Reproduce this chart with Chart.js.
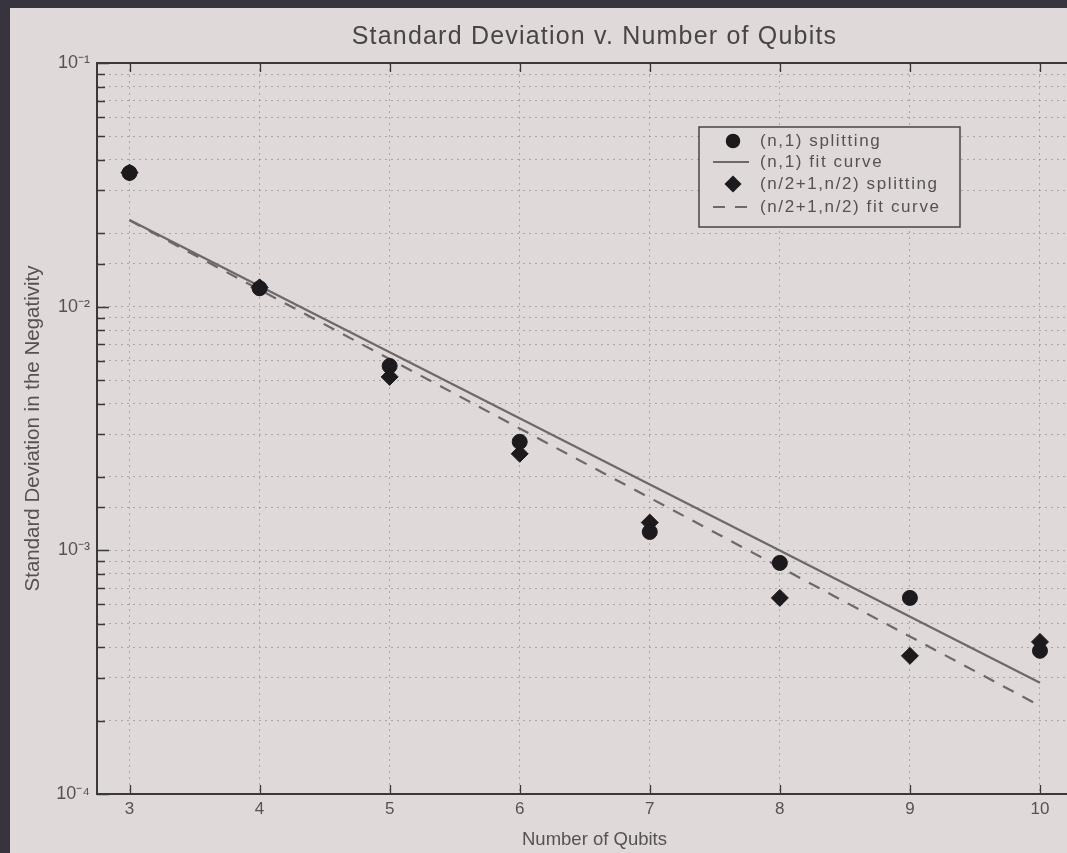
<!DOCTYPE html>
<html>
<head>
<meta charset="utf-8">
<script src="https://cdn.jsdelivr.net/npm/chart.js@4.4.1/dist/chart.umd.min.js"></script>
<style>
  html, body { margin: 0; padding: 0; width: 1067px; height: 853px; overflow: hidden; background: #37343f; }
  #slide { position: absolute; left: 10px; top: 8px; width: 1100px; height: 845px; background: #e0d9da; }
  #slide canvas { display: block; }
</style>
</head>
<body>
<div id="slide"><canvas id="chart" width="1100" height="845"></canvas></div>
<script>
/* global Chart */

// ---------- Data ----------
const qubits = [3, 4, 5, 6, 7, 8, 9, 10];
const splitOne = [0.0354, 0.0119, 0.00571, 0.00279, 0.00119, 0.000888, 0.000638, 0.000387];
const splitHalf = [0.0355, 0.0120, 0.00515, 0.00249, 0.00130, 0.000638, 0.000369, 0.000421];
const fitQubits = [3, 10];
const fitOne = [0.0227, 0.000286];
const fitHalf = [0.0226, 0.000230];
const xTicks = [3, 4, 5, 6, 7, 8, 9, 10];

const BG = '#e0d9da';
const INK = '#575252';
const FONT = '"Liberation Sans", Arial, sans-serif';

Chart.defaults.font.family = FONT;
Chart.defaults.color = INK;

const SUP = { '-': '⁻', '0': '⁰', '1': '¹', '2': '²', '3': '³', '4': '⁴', '5': '⁵', '6': '⁶', '7': '⁷', '8': '⁸', '9': '⁹' };

function isDecade(v) {
  const e = Math.log10(v);
  return Math.abs(e - Math.round(e)) < 1e-9;
}

function decadeLabel(v) {
  const e = String(Math.round(Math.log10(v)));
  return '10' + e.split('').map(c => SUP[c]).join('');
}

const pairs = (xs, ys) => xs.map((x, i) => ({ x, y: ys[i] }));

// ---------- Plugins ----------

// Plot title centred over the axes
const titlePlugin = {
  id: 'axesTitle',
  afterDraw(chart) {
    const { ctx, chartArea } = chart;
    ctx.save();
    ctx.font = `25px ${FONT}`;
    ctx.letterSpacing = '1.2px';
    ctx.fillStyle = '#4a4545';
    ctx.textAlign = 'center';
    ctx.textBaseline = 'middle';
    ctx.fillText('Standard Deviation v. Number of Qubits', (chartArea.left + chartArea.right) / 2, 29);
    ctx.restore();
  },
};

// Box frame and inward tick marks, MATLAB style
const framePlugin = {
  id: 'frame',
  afterDatasetsDraw(chart) {
    const { ctx, chartArea: a, scales } = chart;
    ctx.save();
    ctx.strokeStyle = '#3c3838';
    ctx.lineWidth = 1.3;
    ctx.beginPath();
    for (const t of scales.x.ticks) {
      const px = Math.round(scales.x.getPixelForValue(t.value)) + 0.5;
      ctx.moveTo(px, a.bottom); ctx.lineTo(px, a.bottom - 9);
      ctx.moveTo(px, a.top); ctx.lineTo(px, a.top + 9);
    }
    for (const t of scales.y.ticks) {
      const py = Math.round(scales.y.getPixelForValue(t.value)) + 0.5;
      const len = isDecade(t.value) ? 12 : 8;
      ctx.moveTo(a.left, py); ctx.lineTo(a.left + len, py);
      ctx.moveTo(a.right, py); ctx.lineTo(a.right - len, py);
    }
    ctx.stroke();
    ctx.lineWidth = 2;
    ctx.strokeRect(a.left, a.top, a.right - a.left, a.bottom - a.top);
    ctx.restore();
  },
};

// Legend box inside the axes (top right)
const legendPlugin = {
  id: 'boxLegend',
  afterDraw(chart) {
    const { ctx, chartArea: a } = chart;
    const bx = a.left + 602, by = a.top + 64, bw = 261, bh = 100;
    const rows = [14, 35, 57, 80];
    ctx.save();
    ctx.fillStyle = BG;
    ctx.fillRect(bx, by, bw, bh);
    ctx.strokeStyle = '#4a4545';
    ctx.lineWidth = 1.5;
    ctx.strokeRect(bx, by, bw, bh);
    ctx.font = `17px ${FONT}`;
    ctx.letterSpacing = '1.6px';
    ctx.textBaseline = 'middle';
    chart.data.datasets.forEach((ds, i) => {
      const cy = by + rows[i];
      const cx = bx + 34;
      if (ds.showLine) {
        ctx.save();
        ctx.strokeStyle = ds.borderColor;
        ctx.lineWidth = ds.borderWidth;
        ctx.setLineDash(ds.borderDash || []);
        ctx.beginPath();
        ctx.moveTo(cx - 20, cy); ctx.lineTo(cx + 16, cy);
        ctx.stroke();
        ctx.restore();
      } else {
        ctx.fillStyle = ds.backgroundColor;
        ctx.strokeStyle = ds.borderColor;
        Chart.helpers.drawPoint(ctx, { pointStyle: ds.pointStyle, radius: ds.pointRadius - 1, rotation: 0, borderWidth: 1 }, cx, cy);
      }
      ctx.fillStyle = INK;
      ctx.fillText(ds.label, bx + 61, cy);
    });
    ctx.restore();
  },
};

// ---------- Chart ----------

const MARK = '#1c1a1c';
const FIT = '#6e6868';

new Chart(document.getElementById('chart'), {
  type: 'scatter',
  data: {
    datasets: [
      {
        label: '(n,1) splitting',
        data: pairs(qubits, splitOne),
        pointStyle: 'circle',
        pointRadius: 7.5,
        backgroundColor: MARK,
        borderColor: MARK,
        showLine: false,
      },
      {
        label: '(n,1) fit curve',
        data: pairs(fitQubits, fitOne),
        showLine: true,
        borderColor: FIT,
        borderWidth: 2.2,
        pointRadius: 0,
      },
      {
        label: '(n/2+1,n/2) splitting',
        data: pairs(qubits, splitHalf),
        pointStyle: 'rectRot',
        pointRadius: 8.5,
        backgroundColor: MARK,
        borderColor: MARK,
        showLine: false,
      },
      {
        label: '(n/2+1,n/2) fit curve',
        data: pairs(fitQubits, fitHalf),
        showLine: true,
        borderColor: FIT,
        borderWidth: 2.2,
        borderDash: [12, 10],
        pointRadius: 0,
      },
    ],
  },
  options: {
    responsive: false,
    animation: false,
    layout: { padding: { left: 0, right: 18, top: 55, bottom: 0 } },
    plugins: {
      legend: { display: false },
      tooltip: { enabled: false },
    },
    scales: {
      x: {
        type: 'linear',
        min: 2.75,
        max: 10.4,
        afterBuildTicks: (scale) => { scale.ticks = xTicks.map(v => ({ value: v })); },
        afterFit: (scale) => { scale.height = 59; },
        grid: { color: 'rgba(110,100,102,0.45)', lineWidth: 1, drawTicks: false },
        border: { display: false, dash: [2, 4] },
        ticks: { font: { size: 17 }, padding: 5, autoSkip: false, maxRotation: 0 },
        title: { display: true, text: 'Number of Qubits', font: { size: 18.5 }, padding: { top: 0, bottom: 2 } },
      },
      y: {
        type: 'logarithmic',
        min: 1e-4,
        max: 1e-1,
        afterFit: (scale) => { scale.width = 87; },
        grid: { color: 'rgba(110,100,102,0.45)', lineWidth: 1, drawTicks: false },
        border: { display: false, dash: [2, 4] },
        ticks: {
          font: { size: 18 },
          padding: 7,
          autoSkip: false,
          callback: (v) => (isDecade(v) ? decadeLabel(v) : ''),
        },
        title: { display: true, text: 'Standard Deviation in the Negativity', font: { size: 20.5 }, padding: { top: 11, bottom: 0 } },
      },
    },
  },
  plugins: [titlePlugin, framePlugin, legendPlugin],
});
</script>
</body>
</html>
